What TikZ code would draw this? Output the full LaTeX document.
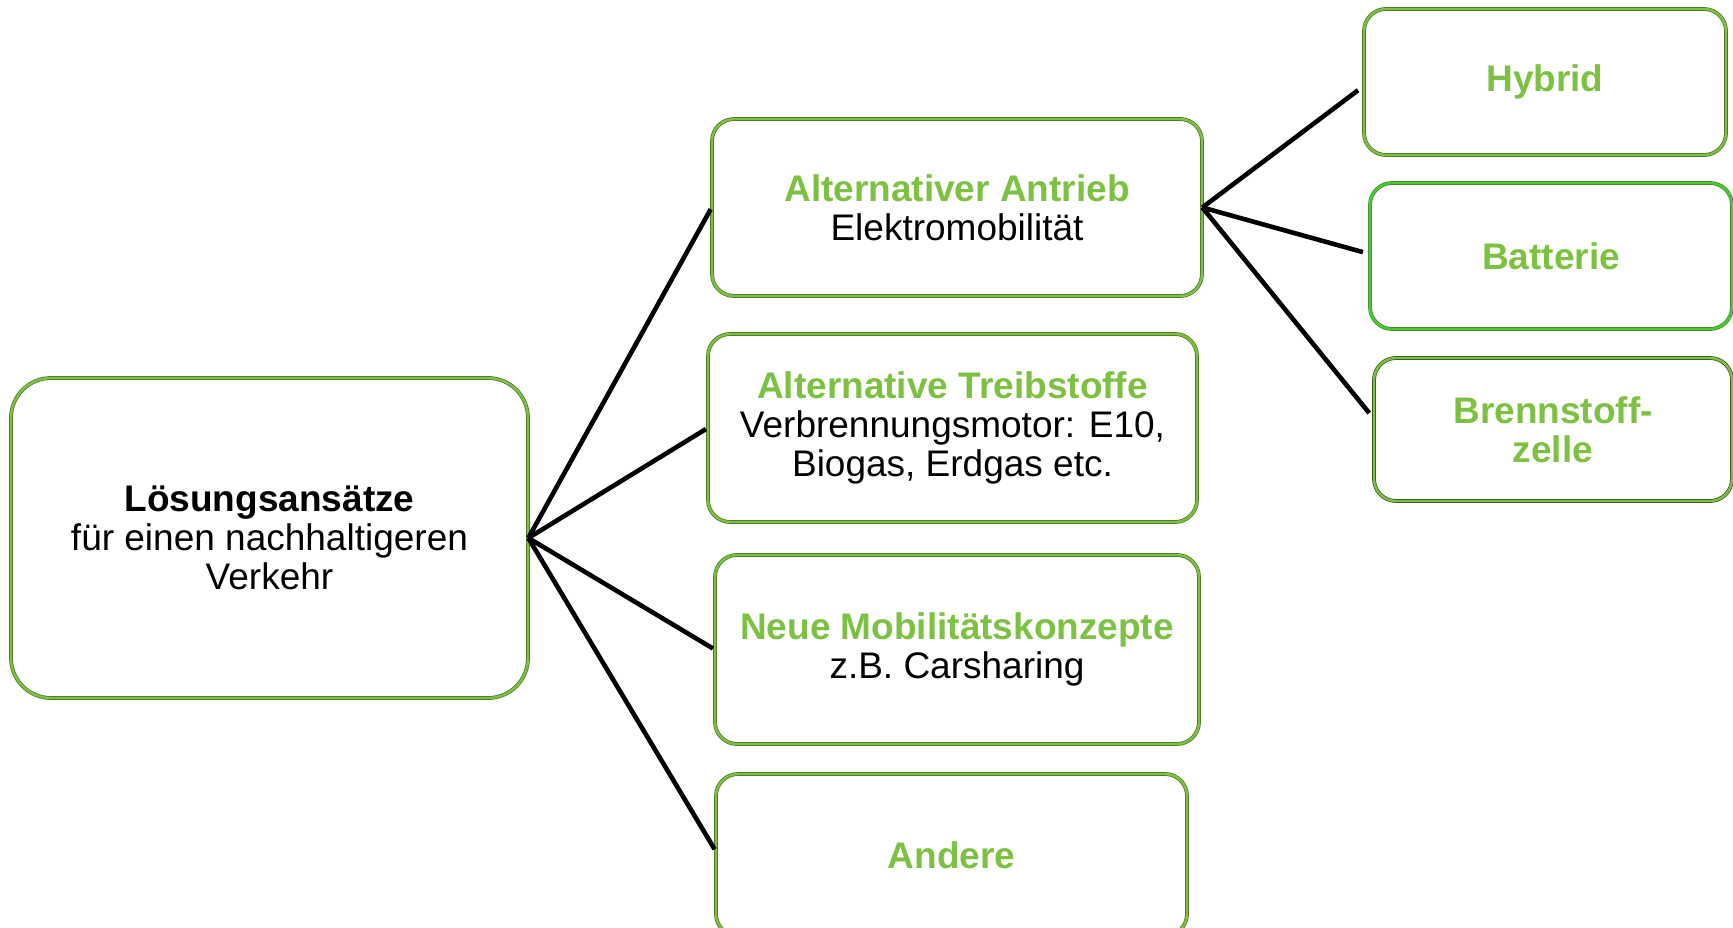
\documentclass[tikz,border=0pt]{standalone}
\usepackage{fontspec}
\setmainfont{Liberation Sans}
\usepackage{tikz}

\definecolor{gruen}{HTML}{7DC142}
\definecolor{hellgruen}{HTML}{44CC33}
\definecolor{rand}{HTML}{4A7226}

\tikzset{
  box/.style={draw=rand, double=gruen, double distance=2.4pt, line width=0.7pt,
    rounded corners=22pt, fill=white, align=center, inner sep=0pt,
    font=\fontsize{37}{39}\selectfont},
  link/.style={line width=4.6pt, black, shorten >=2pt}
}

\begin{document}
\begin{tikzpicture}[x=1pt,y=-1pt]
\useasboundingbox (0,0) rectangle (1733,928);
\clip (0,0) rectangle (1733,928);
% first level
\node[box, rounded corners=40pt, minimum width=517pt, minimum height=320pt] (root) at (269.5,538)
  {\textbf{Lösungsansätze}\\für einen nachhaltigeren\\Verkehr};
\node[box, minimum width=490pt, minimum height=177pt] (antrieb) at (957,207.5)
  {\textcolor{gruen}{\textbf{Alternativer Antrieb}}\\Elektromobilität};
\node[box, minimum width=489pt, minimum height=188pt] (treib) at (952.5,428)
  {\textcolor{gruen}{\textbf{Alternative Treibstoffe}}\\Verbrennungsmotor: E10,\\Biogas, Erdgas etc.};
\node[box, minimum width=484pt, minimum height=189pt] (mobil) at (957,649.5)
  {\textcolor{gruen}{\textbf{Neue Mobilitätskonzepte}}\\z.B. Carsharing};
\node[box, minimum width=471pt, minimum height=162pt] (andere) at (951.5,855)
  {\textcolor{gruen}{\textbf{Andere}}};
% second level
\node[box, minimum width=362pt, minimum height=146pt] (hybrid) at (1545,82)
  {\textcolor{gruen}{\textbf{Hybrid}}};
\node[box, double=hellgruen, draw=rand!80!hellgruen, minimum width=362pt, minimum height=146pt] (batterie) at (1551,256)
  {\textcolor{gruen}{\textbf{Batterie}}};
\node[box, draw=rand!70!black, minimum width=358pt, minimum height=143pt] (brenn) at (1553,429.5)
  {\textcolor{gruen}{\textbf{Brennstoff-}}\\\textcolor{gruen}{\textbf{zelle}}};
% connectors
\draw[link] (root.east) -- (antrieb.west);
\draw[link] (root.east) -- (treib.west);
\draw[link] (root.east) -- (mobil.west);
\draw[link] (root.east) -- ([yshift=4pt]andere.west);
\draw[link, shorten >=7pt] (antrieb.east) -- ([yshift=-4pt]hybrid.west);
\draw[link, shorten >=7pt] (antrieb.east) -- ([yshift=2pt]batterie.west);
\draw[link, shorten >=7pt] (antrieb.east) -- ([yshift=11pt]brenn.west);
\end{tikzpicture}
\end{document}
